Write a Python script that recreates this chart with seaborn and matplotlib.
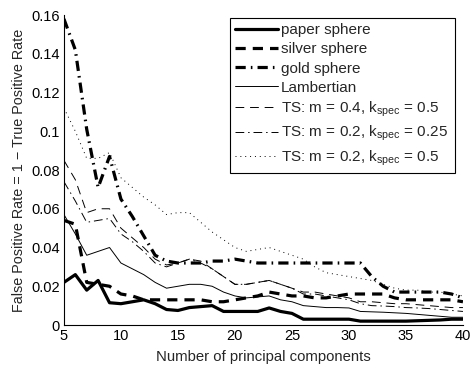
import numpy as np
import pandas as pd
import matplotlib
matplotlib.use("Agg")
import matplotlib.pyplot as plt
import seaborn as sns

components = list(range(5, 41))

paper_sphere = [0.022, 0.026, 0.018, 0.023, 0.0115, 0.011, 0.012, 0.013, 0.011, 0.008,
                0.0075, 0.009, 0.0095, 0.010, 0.007, 0.007, 0.007, 0.007, 0.0088, 0.007,
                0.006, 0.003, 0.003, 0.003, 0.003, 0.003, 0.002, 0.002, 0.002, 0.002,
                0.002, 0.0022, 0.0024, 0.0026, 0.003, 0.003]
silver_sphere = [0.054, 0.052, 0.022, 0.021, 0.020, 0.016, 0.015, 0.013, 0.013, 0.013,
                 0.013, 0.013, 0.013, 0.012, 0.012, 0.013, 0.014, 0.015, 0.017, 0.016,
                 0.015, 0.015, 0.014, 0.014, 0.015, 0.016, 0.016, 0.016, 0.016, 0.014,
                 0.013, 0.013, 0.013, 0.013, 0.013, 0.012]
gold_sphere = [0.158, 0.142, 0.101, 0.071, 0.087, 0.065, 0.056, 0.046, 0.036, 0.033,
               0.032, 0.032, 0.032, 0.033, 0.033, 0.034, 0.033, 0.032, 0.032, 0.032,
               0.032, 0.032, 0.032, 0.032, 0.032, 0.032, 0.032, 0.025, 0.020, 0.017,
               0.017, 0.017, 0.017, 0.017, 0.016, 0.014]
lambertian = [0.057, 0.047, 0.036, 0.038, 0.040, 0.032, 0.029, 0.026, 0.022, 0.019,
              0.020, 0.021, 0.021, 0.020, 0.017, 0.015, 0.014, 0.0145, 0.015, 0.013,
              0.012, 0.010, 0.0095, 0.009, 0.009, 0.0088, 0.007, 0.0068, 0.0066, 0.0063,
              0.006, 0.0055, 0.005, 0.0045, 0.004, 0.004]
ts_m04_k05 = [0.085, 0.075, 0.058, 0.060, 0.060, 0.050, 0.045, 0.040, 0.034, 0.031,
              0.032, 0.034, 0.033, 0.029, 0.025, 0.021, 0.021, 0.022, 0.023, 0.021,
              0.019, 0.017, 0.017, 0.016, 0.015, 0.014, 0.012, 0.012, 0.0115, 0.011,
              0.011, 0.0105, 0.010, 0.0095, 0.009, 0.009]
ts_m02_k025 = [0.074, 0.064, 0.053, 0.054, 0.055, 0.047, 0.043, 0.038, 0.032, 0.030,
               0.032, 0.034, 0.032, 0.029, 0.025, 0.021, 0.021, 0.022, 0.023, 0.021,
               0.019, 0.016, 0.016, 0.015, 0.014, 0.013, 0.011, 0.010, 0.0098, 0.0095,
               0.009, 0.0088, 0.0085, 0.008, 0.0075, 0.007]
ts_m02_k05 = [0.112, 0.100, 0.086, 0.086, 0.089, 0.076, 0.071, 0.066, 0.062, 0.057,
              0.058, 0.058, 0.053, 0.048, 0.044, 0.040, 0.038, 0.039, 0.040, 0.038,
              0.036, 0.034, 0.030, 0.027, 0.026, 0.025, 0.024, 0.023, 0.021, 0.019,
              0.018, 0.018, 0.017, 0.017, 0.016, 0.015]

labels = ["paper sphere", "silver sphere", "gold sphere", "Lambertian",
          r"TS: m = 0.4, k$_{\mathregular{spec}}$ = 0.5",
          r"TS: m = 0.2, k$_{\mathregular{spec}}$ = 0.25",
          r"TS: m = 0.2, k$_{\mathregular{spec}}$ = 0.5"]
series = [paper_sphere, silver_sphere, gold_sphere, lambertian,
          ts_m04_k05, ts_m02_k025, ts_m02_k05]

x_ticks = [5, 10, 15, 20, 25, 30, 35, 40]
y_ticks = [0, 0.02, 0.04, 0.06, 0.08, 0.1, 0.12, 0.14, 0.16]
y_ticklabels = ["0", "0.02", "0.04", "0.06", "0.08", "0.1", "0.12", "0.14", "0.16"]

sns.set_theme(style="white")
plt.rcParams['font.family'] = ['Liberation Sans', 'DejaVu Sans']
plt.rcParams['mathtext.fontset'] = 'custom'
plt.rcParams['mathtext.rm'] = 'Liberation Sans'
plt.rcParams['mathtext.it'] = 'Liberation Sans'

styles = [
    dict(lw=2.3, ls="-"),
    dict(lw=2.3, ls=(0, (3.2, 2.2))),
    dict(lw=2.3, ls=(0, (3.2, 1.6, 0.5, 1.6))),
    dict(lw=0.7, ls="-"),
    dict(lw=0.7, ls=(0, (9, 6))),
    dict(lw=0.7, ls=(0, (9, 4, 1.5, 4))),
    dict(lw=0.7, ls=(0, (1, 4))),
]

fig = plt.figure(figsize=(4.7, 3.66), dpi=100)
ax = fig.add_axes([0.136, 0.112, 0.849, 0.847])

for vals, lab, st in zip(series, labels, styles):
    df = pd.DataFrame({"x": components, "y": vals})
    sns.lineplot(data=df, x="x", y="y", ax=ax, color="black",
                 linewidth=st["lw"], linestyle=st["ls"], label=lab)

ax.set_xlim(5, 40)
ax.set_ylim(0, 0.16)
ax.set_xticks(x_ticks)
ax.set_xticklabels([str(t) for t in x_ticks])
ax.set_yticks(y_ticks)
ax.set_yticklabels(y_ticklabels)
ax.tick_params(direction="in", length=4, width=0.8, labelsize=10.5, colors="black", pad=3)
for s in ["top", "right"]:
    ax.spines[s].set_visible(False)
for s in ["left", "bottom"]:
    ax.spines[s].set_color("black")
    ax.spines[s].set_linewidth(0.8)
ax.set_xlabel("Number of principal components", fontsize=10.75, labelpad=5)
ax.set_ylabel("False Positive Rate = 1 \u2212 True Positive Rate", fontsize=10.4, labelpad=4)

leg = ax.legend(loc="upper left", bbox_to_anchor=(0.416, 0.497, 0.564, 0.493),
                mode="expand", fontsize=11,
                frameon=True, fancybox=False, edgecolor="black", framealpha=1,
                handlelength=2.8, handletextpad=0.2, labelspacing=0.33,
                borderpad=0.35, borderaxespad=0)
leg.get_frame().set_linewidth(0.8)

fig.savefig("out.png", dpi=100)
